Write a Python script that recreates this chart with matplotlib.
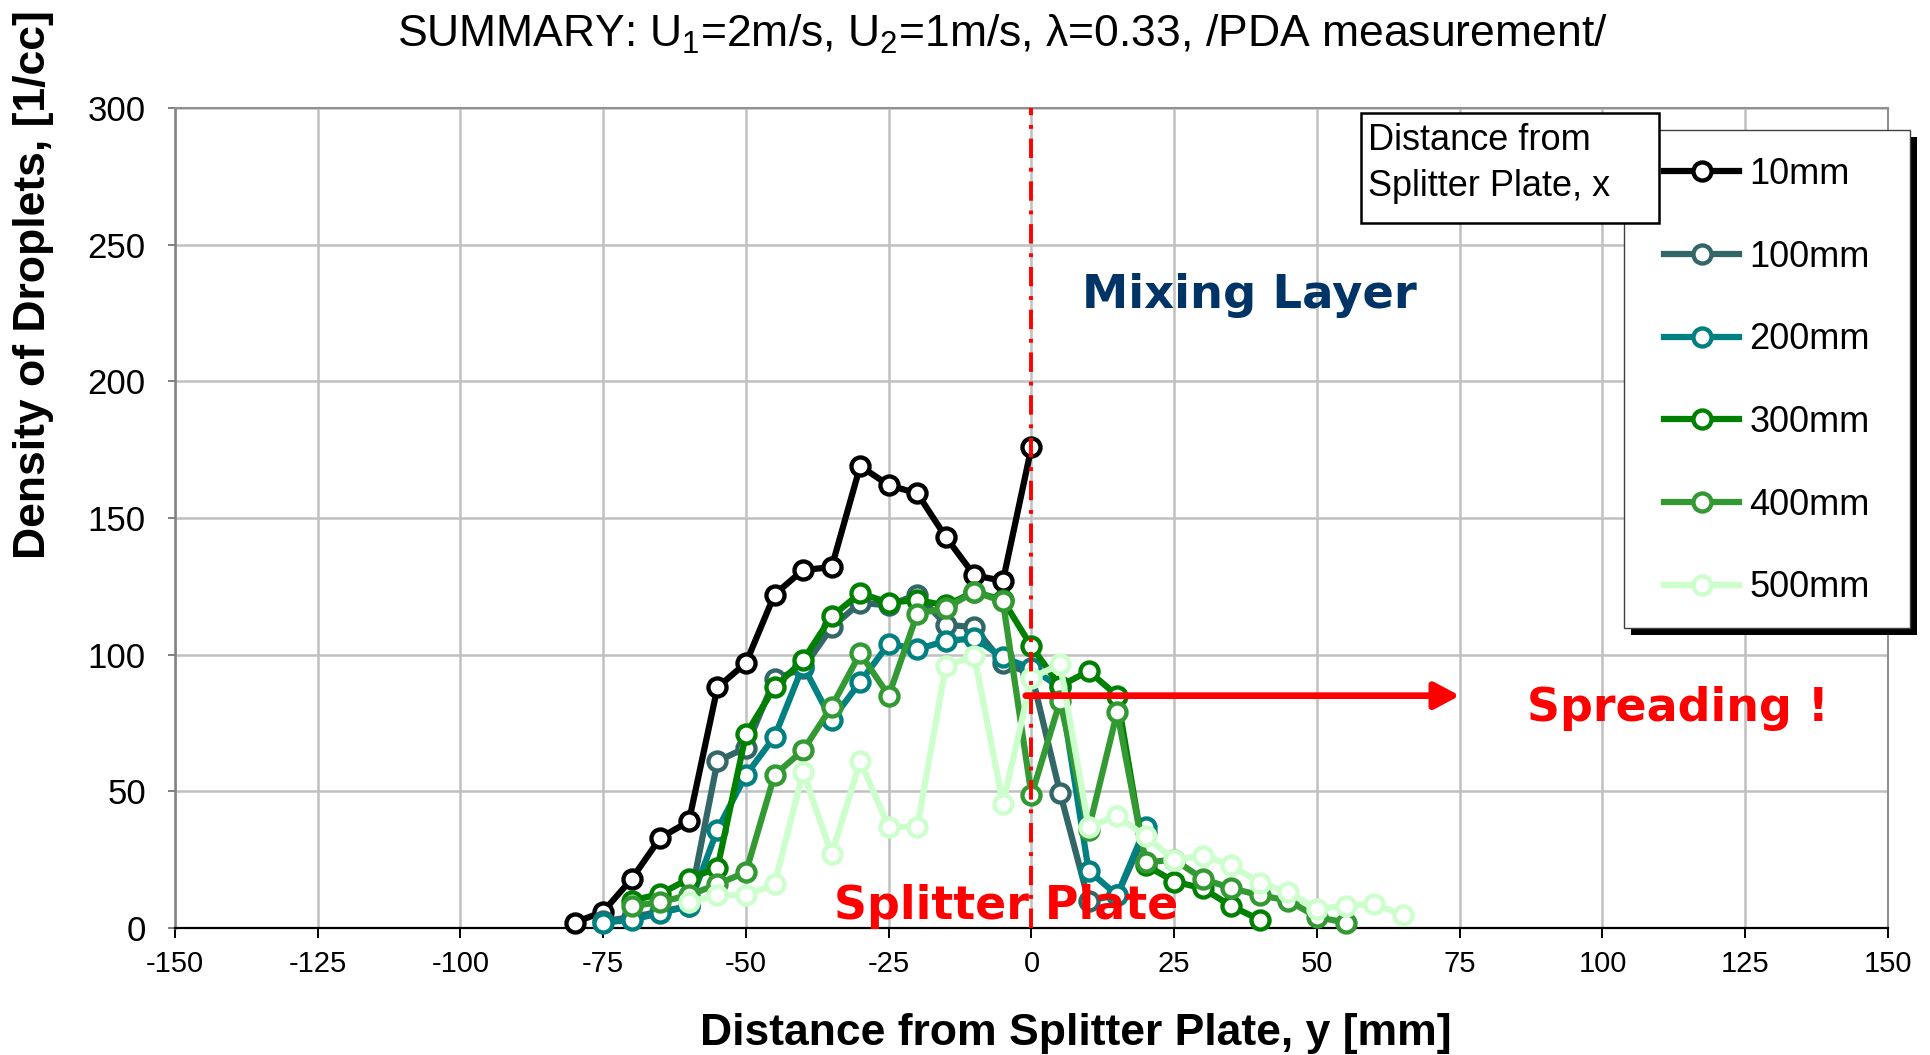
import matplotlib
matplotlib.use("Agg")
import matplotlib.pyplot as plt
from matplotlib.patches import Rectangle

plt.rcParams['font.family'] = ['Liberation Sans', 'DejaVu Sans']
plt.rcParams['mathtext.fontset'] = 'custom'
plt.rcParams['mathtext.rm'] = 'Liberation Sans'
plt.rcParams['mathtext.default'] = 'rm'
plt.rcParams['axes.unicode_minus'] = False

# ---------------- data ----------------
series_labels = ['10mm', '100mm', '200mm', '300mm', '400mm', '500mm']
series_colors = ['#000000', '#336666', '#008080', '#008000', '#339933', '#CCFFCC']

y_10 = [-80, -75, -70, -65, -60, -55, -50, -45, -40, -35, -30, -25, -20, -15, -10, -5, 0]
d_10 = [2, 6, 18, 33, 39, 88, 97, 122, 131, 132, 169, 162, 159, 143, 129, 127, 176]

y_100 = [-75, -70, -65, -60, -55, -50, -45, -40, -35, -30, -25, -20, -15, -10, -5, 0, 5, 10, 15, 20]
d_100 = [2.5, 4, 6, 8, 61, 66, 91, 95, 110, 119, 118, 122, 111, 110, 97, 93, 49.5, 10, 12, 35]

y_200 = [-75, -70, -65, -60, -55, -50, -45, -40, -35, -30, -25, -20, -15, -10, -5, 0, 5, 10, 15, 20]
d_200 = [2, 3, 5.5, 8, 36, 56, 70, 96, 76, 90, 104, 102, 105, 106, 99, 95, 88, 21, 12, 37]

y_300 = [-70, -65, -60, -55, -50, -45, -40, -35, -30, -25, -20, -15, -10, -5, 0, 5, 10, 15, 20, 25, 30, 35, 40]
d_300 = [10, 12.5, 18, 22, 71, 88, 98, 114, 122.5, 119, 120, 118, 123, 120, 103, 88.5, 94, 85, 23, 17, 14.5, 8, 3]

y_400 = [-70, -65, -60, -55, -50, -45, -40, -35, -30, -25, -20, -15, -10, -5, 0, 5, 10, 15, 20, 25, 30, 35, 40, 45, 50, 55]
d_400 = [8, 9.5, 12, 16, 20.5, 56, 65, 81, 100.5, 85, 115, 117, 123, 119.5, 48.6, 83, 36, 79, 24, 25, 18, 14.5, 12, 10, 4, 2]

y_500 = [-60, -55, -50, -45, -40, -35, -30, -25, -20, -15, -10, -5, 0, 5, 10, 15, 20, 25, 30, 35, 40, 45, 50, 55, 60, 65]
d_500 = [9.5, 12, 12, 16, 57, 27, 61, 37, 37, 96, 99.5, 45.5, 91.5, 96.5, 37, 41, 33.5, 25, 26.5, 23, 16.5, 13, 7, 8, 8.8, 4.8]

x_ticks = [-150, -125, -100, -75, -50, -25, 0, 25, 50, 75, 100, 125, 150]
y_ticks = [0, 50, 100, 150, 200, 250, 300]

title = r'SUMMARY: U$_1$=2m/s, U$_2$=1m/s, λ=0.33, /PDA measurement/'
xlabel = 'Distance from Splitter Plate, y [mm]'
ylabel = 'Density of Droplets, [1/cc]'
legend_title_lines = ['Distance from', 'Splitter Plate, x']

# ---------------- figure ----------------
W, H = 1931, 1055
fig = plt.figure(figsize=(W / 100, H / 100), dpi=100)


def fx(px):
    return px / W


def fy(py):
    return 1 - py / H


ax = fig.add_axes([fx(175), fy(928), (1888 - 175) / W, (928 - 108) / H])
ax.set_xlim(-150, 150)
ax.set_ylim(0, 300)
ax.set_xticks(x_ticks)
ax.set_yticks(y_ticks)
ax.set_xticklabels([str(v) for v in x_ticks])
ax.set_yticklabels([str(v) for v in y_ticks])
ax.grid(True, color='#c0c0c0', linewidth=1.8, zorder=0)
ax.set_axisbelow(True)

for s in ['top', 'right']:
    ax.spines[s].set_color('#909090')
    ax.spines[s].set_linewidth(1.5)
ax.spines['left'].set_color('#808080')
ax.spines['left'].set_linewidth(1.8)
ax.spines['bottom'].set_color('#000000')
ax.spines['bottom'].set_linewidth(1.6)

ax.tick_params(axis='x', direction='out', length=7, width=1.4, color='#000000',
               labelsize=21, pad=9)
ax.tick_params(axis='y', direction='out', length=5, width=1.4, color='#808080',
               labelsize=25, pad=16)

xs_all = [y_10, y_100, y_200, y_300, y_400, y_500]
ds_all = [d_10, d_100, d_200, d_300, d_400, d_500]
lines = []
for xs, ds, c, lab in zip(xs_all, ds_all, series_colors, series_labels):
    ln, = ax.plot(xs, ds, '-o', color=c, lw=4.5, ms=13, mew=3.1,
                  mfc='white', mec=c, label=lab, zorder=3, clip_on=False)
    lines.append(ln)

# splitter plate line
ax.axvline(0, color='#ff0000', lw=2.8, linestyle=(0, (5, 2.5, 1, 2.5)), zorder=4)

# spreading arrow
ax.annotate('', xy=(75, 85), xytext=(-1, 85),
            arrowprops=dict(arrowstyle='-|>,head_length=0.75,head_width=0.4',
                            color='#ff0000', lw=4.8, mutation_scale=20,
                            shrinkA=0, shrinkB=0), zorder=5)

ax.text(38.1, 227, 'Mixing Layer', color='#003366', fontsize=33.5,
        fontweight='bold', family='DejaVu Sans', ha='center', va='baseline', zorder=6)
ax.text(113.2, 75.9, 'Spreading !', color='#ff0000', fontsize=33,
        fontweight='bold', family='DejaVu Sans', ha='center', va='baseline', zorder=6)
ax.text(-4.4, 3.4, 'Splitter Plate', color='#ff0000', fontsize=33,
        fontweight='bold', family='DejaVu Sans', ha='center', va='baseline', zorder=6)

# title and axis labels
fig.text(fx(1002), fy(47), title, fontsize=32, ha='center', va='baseline')
fig.text(fx(1076), fy(1045.5), xlabel, fontsize=32, fontweight='bold',
         ha='center', va='baseline')
fig.text(fx(34), fy(285), ylabel, fontsize=32, fontweight='bold',
         rotation=90, ha='center', va='center')

# legend frame with shadow
fig.add_artist(Rectangle((fx(1631), fy(635)), (1910 - 1624) / W, (628 - 130) / H,
                         transform=fig.transFigure, facecolor='black',
                         edgecolor='none', zorder=3.8))
fig.add_artist(Rectangle((fx(1624), fy(628)), (1910 - 1624) / W, (628 - 130) / H,
                         transform=fig.transFigure, facecolor='white',
                         edgecolor='#404040', lw=1.0, zorder=3.9))
leg = fig.legend(handles=lines, labels=series_labels, loc='upper left',
                 bbox_to_anchor=(fx(1664), fy(157)), frameon=False,
                 borderpad=0, borderaxespad=0, handlelength=2.08,
                 handletextpad=0.28, labelspacing=1.32,
                 prop={'family': 'Liberation Sans', 'size': 26})
leg.set_zorder(5)

# legend title box
fig.add_artist(Rectangle((fx(1361), fy(223)), (1659 - 1361) / W, (223 - 113) / H,
                         transform=fig.transFigure, facecolor='white',
                         edgecolor='black', lw=1.8, zorder=6))
fig.text(fx(1368), fy(150), legend_title_lines[0], fontsize=26, ha='left',
         va='baseline', zorder=7)
fig.text(fx(1368), fy(196.5), legend_title_lines[1], fontsize=26, ha='left',
         va='baseline', zorder=7)

fig.savefig('out.png', dpi=100)
